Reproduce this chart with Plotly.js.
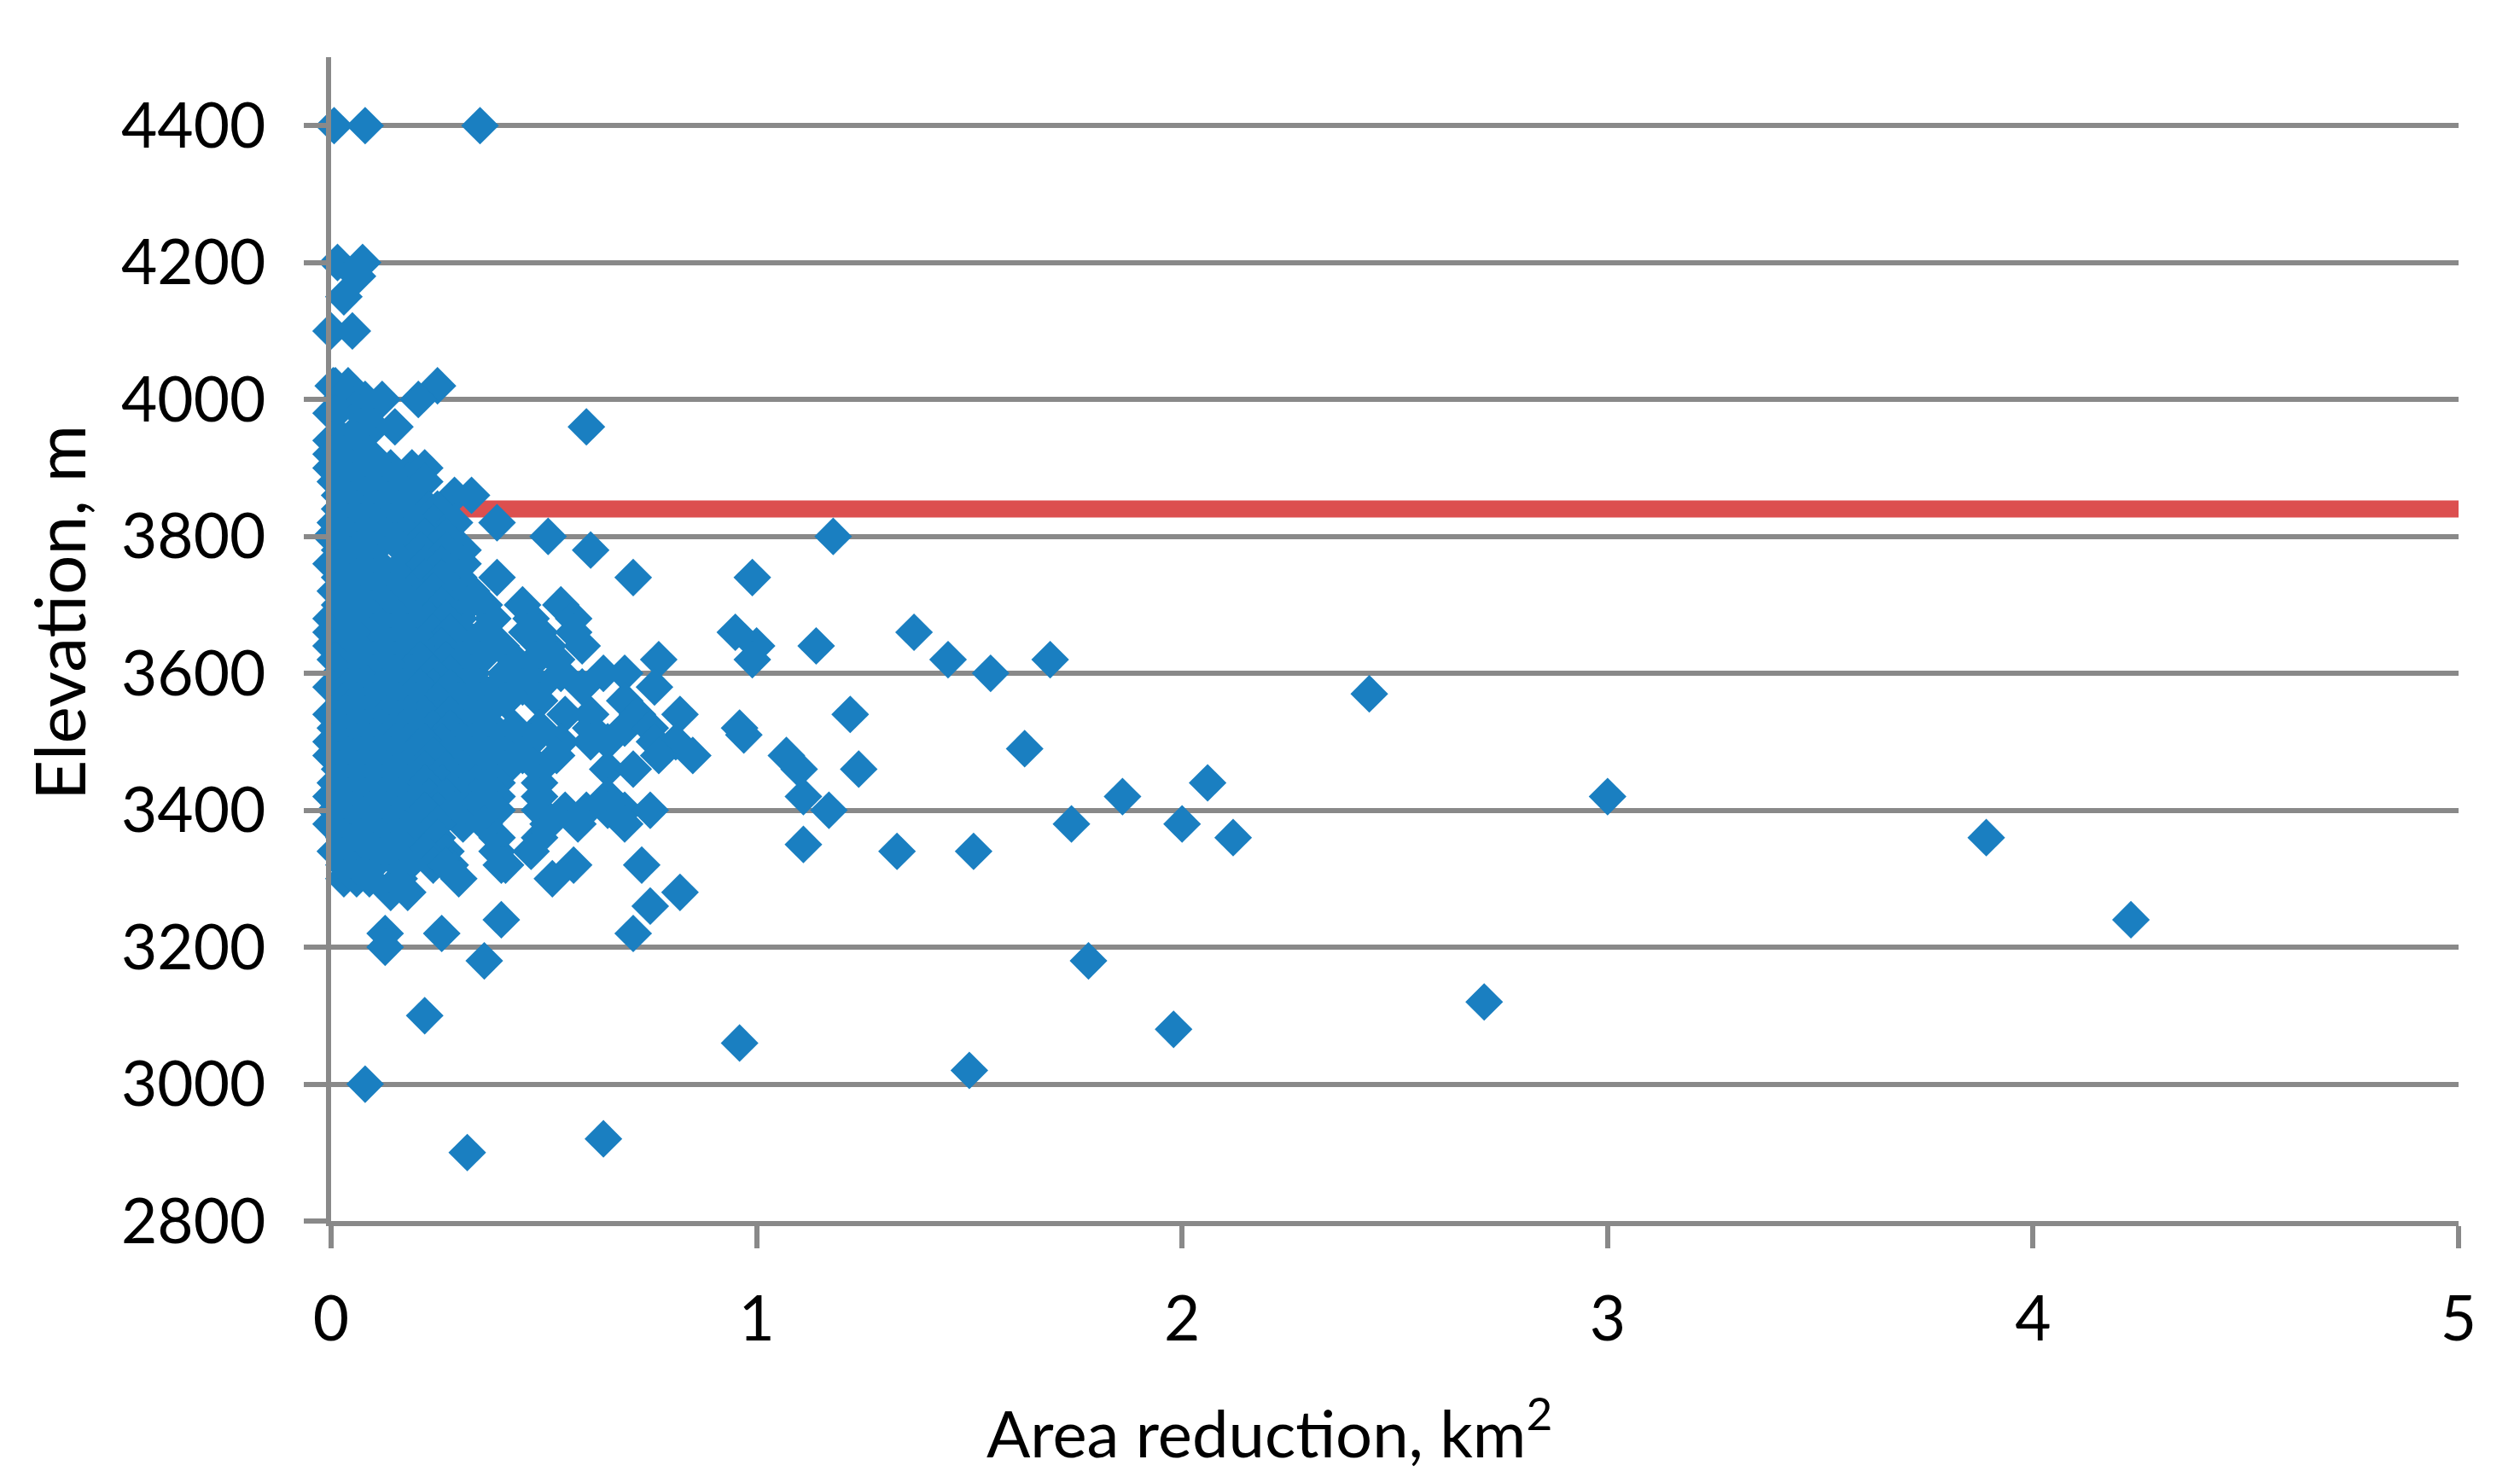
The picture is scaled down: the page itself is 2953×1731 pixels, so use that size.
<!DOCTYPE html>
<html>
<head>
<meta charset="utf-8">
<script src="https://cdn.plot.ly/plotly-3.0.1.min.js"></script>
<style>
  html, body { margin: 0; padding: 0; background: #ffffff; }
  #chart { width: 2953px; height: 1731px; }
</style>
</head>
<body>
<div id="chart"></div>
<script>
// elevation levels (m) and the area reductions (km2) read at each level
var elevationLevels = [
    4400, 4200, 4180, 4150, 4100, 4020, 4000, 3980, 3960, 3940,
    3920, 3900, 3880, 3860, 3840, 3820, 3800, 3780, 3760, 3740,
    3720, 3700, 3680, 3660, 3640, 3620, 3600, 3580, 3570, 3560,
    3540, 3520, 3510, 3500, 3490, 3480, 3460, 3440, 3420, 3400,
    3380, 3360, 3350, 3340, 3320, 3300, 3280, 3260, 3240, 3220,
    3200, 3180, 3120, 3100, 3080, 3060, 3020, 3000, 2920, 2900
];

var areaAtLevel = [
    [0.007, 0.08, 0.35],
    [0.015, 0.074],
    [0.062],
    [0.03],
    [0.0, 0.05],
    [0.005, 0.04, 0.25, 0.01],
    [0.02, 0.08, 0.12, 0.205],
    [0.0, 0.07, 0.01],
    [0.07, 0.10, 0.15, 0.60],
    [0.06, 0.0, 0.03],
    [0.0, 0.03, 0.09],
    [0.05, 0.14, 0.0, 0.09, 0.19, 0.22],
    [0.05, 0.14, 0.18, 0.01, 0.09, 0.22],
    [0.08, 0.18, 0.29, 0.33, 0.02, 0.12],
    [0.02, 0.11, 0.23, 0.25, 0.06, 0.16],
    [0.01, 0.14, 0.20, 0.24, 0.39, 0.07, 0.04, 0.10, 0.29],
    [0.04, 0.13, 0.51, 1.18, 0.0, 0.09, 0.17, 0.22, 0.27],
    [0.02, 0.10, 0.17, 0.21, 0.27, 0.31, 0.61, 0.06],
    [0.05, 0.17, 0.0, 0.11, 0.22, 0.26, 0.31],
    [0.02, 0.10, 0.30, 0.39, 0.71, 0.99, 0.06, 0.15, 0.22, 0.26],
    [0.01, 0.10, 0.19, 0.24, 0.05, 0.14, 0.29, 0.33],
    [0.02, 0.13, 0.19, 0.26, 0.32, 0.45, 0.54, 0.07, 0.36],
    [0.0, 0.10, 0.16, 0.23, 0.30, 0.38, 0.47, 0.57, 0.05, 0.20, 0.27],
    [0.0, 0.10, 0.18, 0.24, 0.31, 0.36, 0.46, 0.49, 0.57, 0.95, 1.37, 0.05, 0.14, 0.28],
    [0.0, 0.06, 0.14, 0.26, 0.40, 0.51, 0.59, 1.0, 1.14, 0.20, 0.33],
    [0.06, 0.15, 0.27, 0.35, 0.43, 0.48, 0.53, 0.77, 0.99, 1.45, 1.69, 0.01, 0.21, 0.10, 0.31],
    [0.02, 0.10, 0.19, 0.28, 0.33, 0.41, 0.46, 0.54, 0.64, 0.69, 1.55, 0.06, 0.15, 0.24],
    [0.07, 0.17, 0.31, 0.39, 0.45, 0.49, 0.59, 0.76, 0.0, 0.24, 0.04, 0.12, 0.21, 0.28, 0.35],
    [2.44],
    [0.03, 0.10, 0.16, 0.25, 0.35, 0.41, 0.49, 0.69, 0.06, 0.20, 0.30],
    [0.04, 0.13, 0.22, 0.28, 0.36, 0.55, 0.61, 0.72, 0.82, 1.22, 0.0, 0.08, 0.18, 0.32],
    [0.01, 0.12, 0.24, 0.31, 0.38, 0.43, 0.49, 0.61, 0.69, 0.75, 0.96, 0.05, 0.08, 0.17, 0.20, 0.28],
    [0.97],
    [0.0, 0.06, 0.12, 0.18, 0.26, 0.33, 0.39, 0.47, 0.54, 0.61, 0.65, 0.76, 0.81, 0.09, 0.15, 0.22, 0.30, 0.36],
    [1.63],
    [0.04, 0.14, 0.19, 0.29, 0.41, 0.45, 0.53, 0.77, 0.85, 1.07, 0.0, 0.07, 0.10, 0.24, 0.33, 0.37],
    [0.02, 0.13, 0.22, 0.35, 0.41, 0.49, 0.65, 0.71, 1.10, 1.24, 0.06, 0.09, 0.17, 0.27, 0.31],
    [0.01, 0.08, 0.18, 0.26, 0.39, 0.49, 2.06, 0.04, 0.12, 0.22, 0.30, 0.34],
    [0.08, 0.16, 0.23, 0.30, 0.39, 0.49, 0.65, 1.11, 1.86, 3.0, 0.0, 0.04, 0.12, 0.20, 0.27, 0.34],
    [0.01, 0.09, 0.18, 0.25, 0.33, 0.39, 0.49, 0.55, 0.60, 0.65, 0.69, 0.75, 1.17, 0.05, 0.13, 0.22, 0.29],
    [0.05, 0.14, 0.20, 0.31, 0.51, 0.58, 0.69, 1.74, 2.0, 0.0, 0.09, 0.25, 0.36],
    [0.03, 0.12, 0.20, 0.39, 0.49, 2.12, 3.89, 0.07, 0.16, 0.25],
    [1.11],
    [0.05, 0.18, 0.27, 0.39, 0.47, 1.33, 1.51, 0.01, 0.10, 0.14, 0.22],
    [0.03, 0.10, 0.16, 0.24, 0.28, 0.41, 0.57, 0.73, 0.18, 0.27, 0.40],
    [0.03, 0.06, 0.09, 0.16, 0.30, 0.52],
    [0.14, 0.18, 0.82],
    [0.75],
    [0.40, 4.23],
    [0.127, 0.26, 0.71],
    [0.127],
    [0.36, 1.78],
    [2.71],
    [0.22],
    [1.98],
    [0.96],
    [1.50],
    [0.08],
    [0.64],
    [0.32]
];

// red reference line
var limitX = [0.17, 5];
var limitY = [3840, 3840];

var yTicks = [2800, 3000, 3200, 3400, 3600, 3800, 4000, 4200, 4400];
var xTicks = [0, 1, 2, 3, 4, 5];

var xs = [];
var ys = [];
for (var i = 0; i < elevationLevels.length; ++i) {
    areaAtLevel[i].forEach(a => {
        xs.push(a);
        ys.push(elevationLevels[i]);
    });
}

var gridGrey = '#898989';
var font = 'Lato, "Open Sans", sans-serif';

var data = [
    {
        x: limitX, y: limitY,
        mode: 'lines',
        type: 'scatter',
        line: { color: '#dc4f4f', width: 20 },
        hoverinfo: 'skip'
    },
    {
        x: xs, y: ys,
        mode: 'markers',
        type: 'scatter',
        marker: { symbol: 'diamond', size: 34, color: '#1a7fc1', line: { width: 0 } },
        cliponaxis: false
    }
];

var layout = {
    width: 2953,
    height: 1731,
    margin: { l: 388, r: 72, t: 67, b: 300 },
    paper_bgcolor: '#ffffff',
    plot_bgcolor: '#ffffff',
    showlegend: false,
    font: { family: font, size: 73, color: '#000000' },
    xaxis: {
        range: [0, 5],
        tickvals: xTicks,
        ticktext: xTicks.map(String),
        showgrid: false,
        zeroline: false,
        showline: true,
        linecolor: gridGrey,
        linewidth: 6,
        ticks: 'outside',
        ticklen: 26,
        tickwidth: 6,
        tickcolor: gridGrey,
        ticklabelstandoff: 20,
        tickfont: { family: font, size: 73, color: '#000000' }
    },
    yaxis: {
        range: [2800, 4500],
        tickvals: yTicks,
        ticktext: yTicks.map(String),
        showgrid: true,
        gridcolor: gridGrey,
        gridwidth: 6,
        zeroline: false,
        showline: true,
        linecolor: gridGrey,
        linewidth: 6,
        ticks: 'outside',
        ticklen: 26,
        tickwidth: 6,
        tickcolor: gridGrey,
        ticklabelstandoff: 30,
        tickfont: { family: font, size: 73, color: '#000000' }
    },
    annotations: [
        {
            text: 'Area reduction, km<sup>2</sup>',
            xref: 'paper', yref: 'paper',
            x: 0.4412, y: -0.178,
            xanchor: 'center', yanchor: 'middle',
            showarrow: false,
            font: { family: font, size: 76, color: '#000000' }
        },
        {
            text: 'Elevation, m',
            xref: 'paper', yref: 'paper',
            x: -0.1284, y: 0.5227,
            xanchor: 'center', yanchor: 'middle',
            textangle: -90,
            showarrow: false,
            font: { family: font, size: 82, color: '#000000' }
        }
    ]
};

Plotly.newPlot('chart', data, layout, { staticPlot: true });
</script>
</body>
</html>
